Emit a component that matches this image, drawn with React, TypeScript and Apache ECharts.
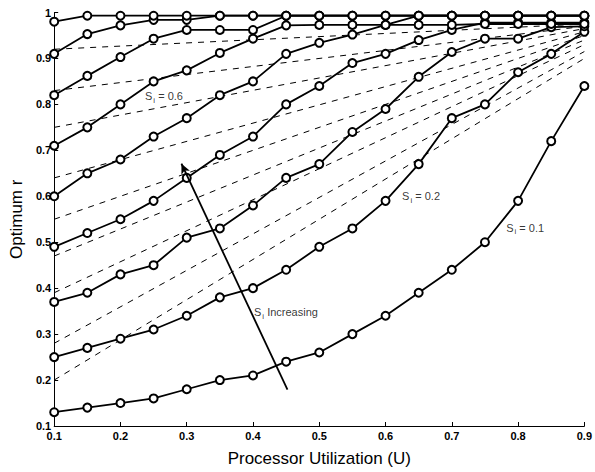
import React, { useEffect, useRef } from "react";
import * as echarts from "echarts";

const U = [0.1, 0.15, 0.2, 0.25, 0.3, 0.35, 0.4, 0.45, 0.5, 0.55, 0.6, 0.65, 0.7, 0.75, 0.8, 0.85, 0.9];

const S01 = [0.13, 0.14, 0.15, 0.16, 0.18, 0.2, 0.21, 0.24, 0.26, 0.3, 0.34, 0.39, 0.44, 0.5, 0.59, 0.72, 0.84];
const S02 = [0.25, 0.27, 0.29, 0.31, 0.34, 0.38, 0.4, 0.44, 0.49, 0.53, 0.59, 0.67, 0.77, 0.8, 0.87, 0.91, 0.958];
const S03 = [0.37, 0.39, 0.43, 0.45, 0.51, 0.53, 0.58, 0.64, 0.67, 0.74, 0.79, 0.86, 0.914, 0.943, 0.943, 0.968, 0.97];
const S04 = [0.49, 0.52, 0.55, 0.59, 0.64, 0.69, 0.73, 0.8, 0.84, 0.89, 0.91, 0.94, 0.962, 0.978, 0.978, 0.978, 0.978];
const S05 = [0.6, 0.65, 0.68, 0.73, 0.77, 0.82, 0.85, 0.91, 0.934, 0.952, 0.973, 0.993, 0.993, 0.993, 0.993, 0.993, 0.993];
const S06 = [0.71, 0.75, 0.8, 0.85, 0.874, 0.912, 0.943, 0.972, 0.973, 0.973, 0.973, 0.973, 0.973, 0.975, 0.975, 0.975, 0.975];
const S07 = [0.82, 0.862, 0.903, 0.943, 0.962, 0.962, 0.962, 0.993, 0.993, 0.993, 0.993, 0.993, 0.993, 0.993, 0.993, 0.993, 0.993];
const S08 = [0.91, 0.953, 0.972, 0.984, 0.984, 0.993, 0.993, 0.993, 0.993, 0.993, 0.993, 0.993, 0.993, 0.993, 0.993, 0.993, 0.993];
const S09 = [0.98, 0.993, 0.993, 0.993, 0.993, 0.993, 0.993, 0.993, 0.993, 0.993, 0.993, 0.993, 0.993, 0.993, 0.993, 0.993, 0.993];
const SOLID = [S01, S02, S03, S04, S05, S06, S07, S08, S09];

// dashed reference lines: value at U=0.1 and at U=0.9
const DASH_START = [0.92, 0.83, 0.75, 0.64, 0.55, 0.47, 0.39, 0.28, 0.2];
const DASH_END = [0.975, 0.97, 0.965, 0.958, 0.95, 0.94, 0.93, 0.915, 0.9];

const ARROW_FROM = [0.452, 0.179];
const ARROW_TO = [0.292, 0.671];

const LABELS: { at: number[]; text: string }[] = [
  { at: [0.237, 0.818], text: "{s|S}{sub|i}{s| = 0.6}" },
  { at: [0.625, 0.6], text: "{s|S}{sub|i}{s| = 0.2}" },
  { at: [0.782, 0.531], text: "{s|S}{sub|i}{s| = 0.1}" },
  { at: [0.4015, 0.348], text: "{s|S}{sub|i}{s| Increasing}" },
];

const FONT = "Liberation Sans, Arial, sans-serif";

export default function App() {
  const ref = useRef<HTMLDivElement>(null);
  useEffect(() => {
    const chart = echarts.init(ref.current!, null, { renderer: "svg" });
    const series: any[] = [];
    DASH_START.forEach((s, i) => {
      series.push({
        type: "line",
        data: [
          [U[0], s],
          [U[U.length - 1], DASH_END[i]],
        ],
        showSymbol: false,
        symbol: "none",
        lineStyle: { color: "#000", width: 1, type: [6, 6] },
        silent: true,
        z: 1,
      });
    });
    SOLID.forEach((vals) => {
      series.push({
        type: "line",
        data: U.map((u, j) => [u, vals[j]]),
        symbol: "circle",
        symbolSize: 8,
        itemStyle: { color: "#fff", borderColor: "#000", borderWidth: 2 },
        lineStyle: { color: "#000", width: 1.8 },
        z: 3,
      });
    });
    series.push({
      type: "line",
      data: [],
      markLine: {
        silent: true,
        symbol: ["none", "arrow"],
        symbolSize: [7, 10],
        label: { show: false },
        lineStyle: { color: "#000", width: 1.8, type: "solid" },
        data: [[{ coord: ARROW_FROM }, { coord: ARROW_TO }]],
      },
    });
    series.push({
      type: "scatter",
      symbolSize: 0,
      silent: true,
      data: LABELS.map((l) => ({ value: l.at, text: l.text })),
      label: {
        show: true,
        position: "right",
        distance: 0,
        formatter: (p: any) => p.data.text,
        rich: {
          s: { fontSize: 11, fontFamily: FONT, color: "#000" },
          sub: { fontSize: 8, fontFamily: FONT, color: "#000", padding: [8, 0, 0, 1] },
        },
      },
      z: 5,
    });
    chart.setOption({
      animation: false,
      grid: { left: 51.5, right: 9, top: 12.5, bottom: 42, containLabel: false },
      xAxis: {
        type: "value",
        min: 0.1,
        max: 0.9,
        interval: 0.1,
        name: "Processor Utilization (U)",
        nameLocation: "middle",
        nameGap: 24,
        nameTextStyle: { fontSize: 17, fontFamily: FONT, color: "#000" },
        axisLine: { lineStyle: { color: "#000", width: 1 } },
        axisTick: { inside: true, length: 4, lineStyle: { color: "#000" } },
        axisLabel: { fontSize: 11, fontFamily: FONT, color: "#000", margin: 4, fontWeight: "bold" },
        splitLine: { show: false },
      },
      yAxis: {
        type: "value",
        min: 0.1,
        max: 1,
        interval: 0.1,
        name: "Optimum r",
        nameLocation: "middle",
        nameGap: 25,
        nameTextStyle: { fontSize: 17, fontFamily: FONT, color: "#000" },
        axisLine: { show: true, lineStyle: { color: "#000", width: 1 } },
        axisTick: { show: true, inside: true, length: 4, lineStyle: { color: "#000" } },
        axisLabel: {
          fontSize: 11,
          fontFamily: FONT,
          color: "#000",
          margin: 3,
          fontWeight: "bold",
          formatter: (v: number) => (Math.abs(v - 1) < 1e-9 ? "1" : v.toFixed(1)),
        },
        splitLine: { show: false },
      },
      series,
    });
    return () => chart.dispose();
  }, []);
  return (
    <div
      ref={ref}
      style={{ position: "fixed", left: 0, top: 0, width: 595, height: 472, background: "#fff" }}
    />
  );
}
